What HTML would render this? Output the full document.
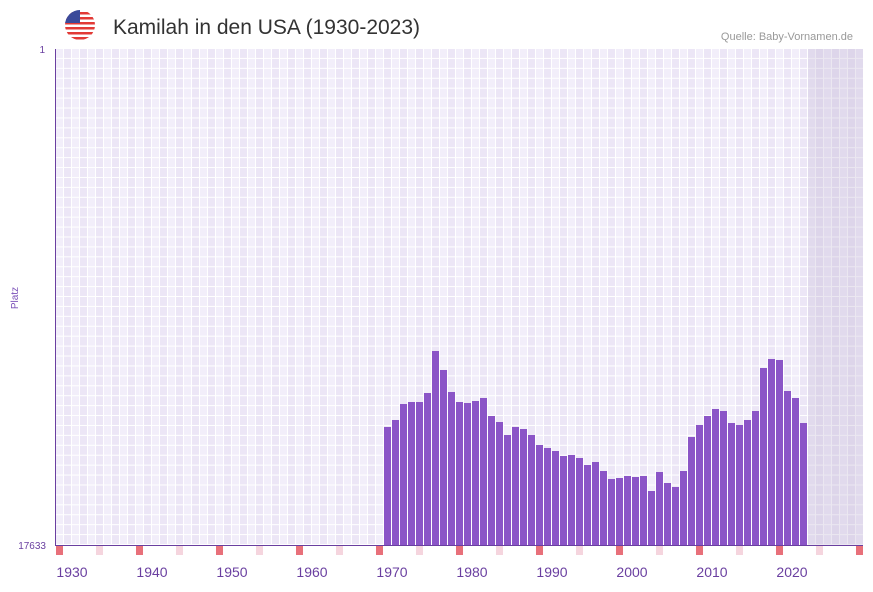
<!DOCTYPE html>
<html><head><meta charset="utf-8"><style>
body{margin:0;background:#fff;font-family:"Liberation Sans","DejaVu Sans",sans-serif;}
</style></head><body>
<svg width="873" height="587" xmlns="http://www.w3.org/2000/svg" font-family="Liberation Sans, DejaVu Sans, sans-serif">
<defs>
<pattern id="g" x="56" y="49" width="16" height="9.92" patternUnits="userSpaceOnUse">
<rect x="0" y="0" width="8" height="9.92" fill="#f2eefa"/>
<rect x="8" y="0" width="8" height="9.92" fill="#ece6f6"/>
<rect x="7" y="0" width="1" height="9.92" fill="#fff"/>
<rect x="15" y="0" width="1" height="9.92" fill="#fff"/>
<rect x="0" y="8.92" width="16" height="1" fill="#fff"/>
</pattern>
<clipPath id="c"><circle cx="80" cy="25" r="15"/></clipPath>
</defs>
<g clip-path="url(#c)">
<rect x="65" y="10" width="30" height="30" fill="#fff"/>
<rect x="65" y="12" width="30" height="2.5" fill="#e23a36"/>
<rect x="65" y="17" width="30" height="2.5" fill="#e23a36"/>
<rect x="65" y="22" width="30" height="2.5" fill="#e23a36"/>
<rect x="65" y="27" width="30" height="2.5" fill="#e23a36"/>
<rect x="65" y="32" width="30" height="2.5" fill="#e23a36"/>
<rect x="65" y="37" width="30" height="2.5" fill="#e23a36"/>
<rect x="65" y="10" width="15" height="13" fill="#3b4a9a"/>
</g>
<text x="113" y="34" font-size="21" fill="#333">Kamilah in den USA (1930-2023)</text>
<text x="853" y="40" font-size="11" fill="#999" text-anchor="end">Quelle: Baby-Vornamen.de</text>
<rect x="56" y="49" width="807" height="496" fill="url(#g)"/>
<rect x="808" y="49" width="55" height="496" fill="#b8a8cc" opacity="0.28"/>
<line x1="55.5" y1="49" x2="55.5" y2="545" stroke="#6a3fa0" stroke-width="1"/>
<line x1="55" y1="545.5" x2="863" y2="545.5" stroke="#6a3fa0" stroke-width="1"/>
<text x="45" y="53" font-size="10" fill="#6a3fa0" text-anchor="end">1</text>
<text x="46" y="549" font-size="10" fill="#6a3fa0" text-anchor="end">17633</text>
<text transform="translate(18,298) rotate(-90)" font-size="10" fill="#7a4fb8" text-anchor="middle">Platz</text>
<g id="bars" fill="#8b55c7"></g>
<g id="marks"></g>
<g font-size="14" fill="#6a3fa0" text-anchor="middle">
<text x="72" y="577">1930</text><text x="152" y="577">1940</text><text x="232" y="577">1950</text><text x="312" y="577">1960</text><text x="392" y="577">1970</text><text x="472" y="577">1980</text><text x="552" y="577">1990</text><text x="632" y="577">2000</text><text x="712" y="577">2010</text><text x="792" y="577">2020</text>
</g>
</svg>
<script>
var tops=[427,420,404,402,402,393,351,370,392,402,403,401,398,416,422,435,427,429,435,445,448,451,456,455,458,465,462,471,479,478,476,477,476,491,472,483,487,471,437,425,416,409,411,423,425,420,411,368,359,360,391,398,423];
var ns="http://www.w3.org/2000/svg",b=document.getElementById("bars"),m=document.getElementById("marks");
tops.forEach(function(t,i){var r=document.createElementNS(ns,"rect");r.setAttribute("x",384+8*i);r.setAttribute("y",t);r.setAttribute("width",7);r.setAttribute("height",545-t);b.appendChild(r);});
for(var x=56;x<863;x+=40){var r=document.createElementNS(ns,"rect");r.setAttribute("x",x);r.setAttribute("y",546);r.setAttribute("width",7);r.setAttribute("height",9);r.setAttribute("fill",((x-56)/40)%2==0?"#e8707a":"#f5d5de");m.appendChild(r);}
</script>
</body></html>
